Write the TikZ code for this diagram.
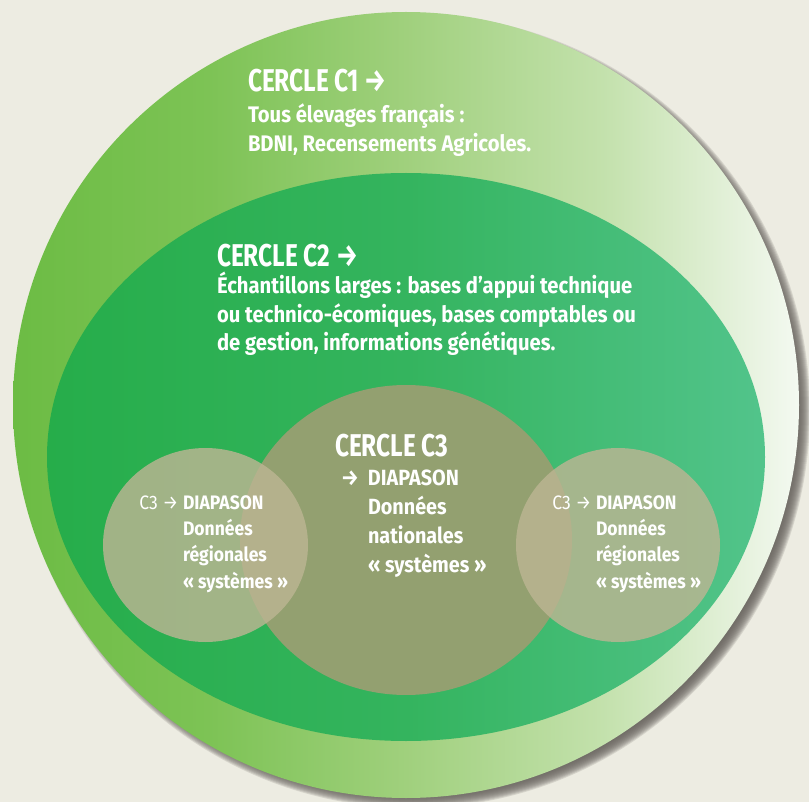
\documentclass[tikz,border=0pt]{standalone}
\usepackage{fontspec}
\setmainfont{Fira Sans}
\newfontfamily\titlef{Fira Sans}[FakeStretch=0.775]
\newfontfamily\bodyf{Fira Sans}[FakeStretch=0.9]
\definecolor{bgc}{HTML}{EDECE2}
\definecolor{shadowc}{HTML}{6A6661}
\definecolor{oA}{HTML}{6CBC44}
\definecolor{oB}{HTML}{7DC355}
\definecolor{oC}{HTML}{A0D07D}
\definecolor{oD}{HTML}{C3E1AC}
\definecolor{oE}{HTML}{F4F9F1}
\definecolor{gA}{HTML}{26AD4A}
\definecolor{gB}{HTML}{34B45E}
\definecolor{gC}{HTML}{52C48B}
\definecolor{centralc}{HTML}{93A070}
\definecolor{smallc}{HTML}{BCB593}
\pgfdeclarehorizontalshading{outershade}{100bp}{color(0bp)=(oA); color(25bp)=(oA); color(37.5bp)=(oB); color(50bp)=(oC); color(62.5bp)=(oD); color(75bp)=(oE); color(100bp)=(oE)}
\pgfdeclarehorizontalshading{innershade}{100bp}{color(0bp)=(gA); color(25bp)=(gA); color(50bp)=(gB); color(75bp)=(gC); color(100bp)=(gC)}
\tikzset{
  txt/.style={inner sep=0pt, outer sep=0pt, text=white, align=left, anchor=base west},
  titletxt/.style={txt, font=\titlef\bfseries\fontsize{31.5}{31.5}\selectfont},
  bodytxt/.style={txt, font=\bodyf\bfseries\fontsize{22.5}{28.8}\selectfont},
  cbodytxt/.style={txt, font=\bodyf\bfseries\fontsize{22}{29}\selectfont},
  smalltxt/.style={txt, font=\bodyf\bfseries\fontsize{19.5}{26.3}\selectfont},
}
\begin{document}
\begin{tikzpicture}[x=1pt,y=-1pt]
\useasboundingbox (0,0) rectangle (809,802);
\fill[bgc] (0,0) rectangle (809,802);
% blurred shadow
\foreach \i in {0,...,12}{
  \pgfmathsetmacro{\r}{397-\i}
  \fill[shadowc, opacity=0.18] (413,411) ellipse[x radius=\r pt, y radius=\r pt];
}
% circle C1
\shade[shading=outershade] (406,405) ellipse[x radius=393pt, y radius=393pt];
% circle C2
\shade[shading=innershade] (406,457) ellipse[x radius=359pt, y radius=284pt];
% circle C3 central
\fill[centralc] (406,540) ellipse[x radius=166pt, y radius=155pt];
% small circles
\fill[smallc, opacity=0.82] (205.5,545) ellipse[x radius=102.5pt, y radius=97pt];
\fill[smallc, opacity=0.82] (618,545) ellipse[x radius=102pt, y radius=97pt];
% texts (multi-line nodes: base = last line)
\node[titletxt] (c1title) at (248,92) {CERCLE C1 →};
\node[bodytxt] (c1body) at (248,151.8) {Tous élevages français :\\BDNI, Recensements Agricoles.};
\node[titletxt] (c2title) at (217,267) {CERCLE C2 →};
\node[bodytxt] (c2body) at (217,351) {Échantillons larges : bases d’appui technique\\ou technico-écomiques, bases comptables ou\\de gestion, informations génétiques.};
\node[titletxt] (c3title) at (335,456) {CERCLE C3};
\node[cbodytxt] (c3body) at (368,572) {\llap{→\hspace{9pt}}DIAPASON\\Données\\nationales\\«~systèmes~»};
\node[smalltxt] (leftbody) at (183,588) {\llap{{\mdseries C3 → }}DIAPASON\\Données\\régionales\\«~systèmes~»};
\node[smalltxt] (rightbody) at (596,588) {\llap{{\mdseries C3 → }}DIAPASON\\Données\\régionales\\«~systèmes~»};
\end{tikzpicture}
\end{document}
